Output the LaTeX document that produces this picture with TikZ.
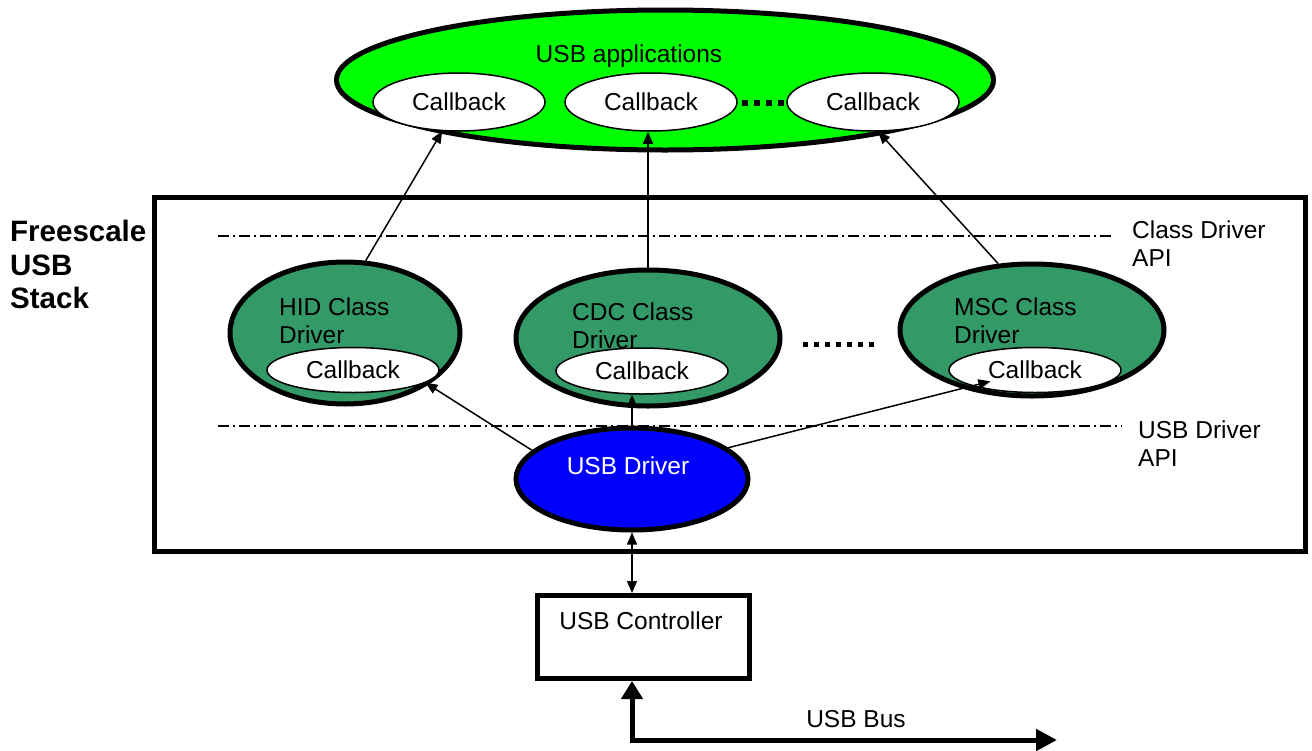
\documentclass[tikz,border=0pt]{standalone}
\usepackage{fontspec}
\setmainfont{Liberation Sans}
\usetikzlibrary{shapes.geometric,arrows.meta,calc}
\definecolor{appgreen}{RGB}{0,255,0}
\definecolor{drvgreen}{RGB}{51,153,102}
\definecolor{drvblue}{RGB}{0,0,255}
\begin{document}
\begin{tikzpicture}[x=1pt,y=-1pt,
  txt/.style={font=\fontsize{24.5}{27.5}\selectfont, inner sep=0pt, align=left},
  bigell/.style={ellipse, draw, line width=5pt, inner sep=0pt},
  cbell/.style={ellipse, draw, fill=white, line width=1.5pt, inner sep=0pt, minimum width=172pt, font=\fontsize{24.5}{28}\selectfont},
  apiline/.style={line width=1.5pt, dash pattern=on 11pt off 4pt on 2pt off 4pt},
  arr/.style={line width=1.5pt, -{Triangle[length=12pt,width=10pt]}},
  dblarr/.style={line width=1.5pt, {Triangle[length=12pt,width=10pt]}-{Triangle[length=12pt,width=10pt]}},
  bus/.style={line width=5pt, {Triangle[length=18pt,width=21pt]}-{Triangle[length=21pt,width=21pt]}},
  box/.style={draw, line width=5pt, inner sep=0pt},
  dotsq/.style={fill=black}
]
\useasboundingbox (0,0) rectangle (1312,750);

% Freescale USB Stack frame
\node[box, minimum width=1151pt, minimum height=354pt] (stack) at (729.5,374) {};
\node[anchor=north west, inner sep=0pt, align=left, font=\bfseries\fontsize{29.5}{33.5}\selectfont] (stacklbl) at (10,220) {Freescale\\USB\\Stack};

% API lines
\coordinate (capiA) at (218,236);
\coordinate (capiB) at (1113,236);
\coordinate (uapiA) at (218,426);
\coordinate (uapiB) at (1122,426);
\draw[apiline] (capiA) -- (capiB);
\draw[apiline] (uapiA) -- (uapiB);
\node[txt, anchor=north west] (capitxt) at (1132,221) {Class Driver\\API};
\node[txt, anchor=north west] (uapitxt) at (1138,421) {USB Driver\\API};

% USB applications
\node[bigell, fill=appgreen, minimum width=657pt, minimum height=140pt] (app) at (665,80) {};
\node[txt, anchor=base] (apptxt) at (629,62) {USB applications};
\node[cbell, minimum height=58pt] (acb1) at (459,102) {Callback};
\node[cbell, minimum height=58pt] (acb2) at (651,102) {Callback};
\node[cbell, minimum height=58pt] (acb3) at (873,102) {Callback};
\foreach \x in {745,757,769,781} \fill[dotsq] (\x-3,100) rectangle (\x+3,106);

% Class drivers
\node[bigell, fill=drvgreen, minimum width=230pt, minimum height=142pt] (hid) at (345,333) {};
\node[txt, anchor=north west] (hidtxt) at (279,298) {HID Class\\Driver};
\node[cbell, minimum height=45pt] (hcb) at (353,370) {Callback};

\node[bigell, fill=drvgreen, minimum width=264pt, minimum height=136pt] (cdc) at (648,338) {};
\node[txt, anchor=north west] (cdctxt) at (572,303) {CDC Class\\Driver};
\node[cbell, minimum height=46pt] (ccb) at (642,371) {Callback};

\node[bigell, fill=drvgreen, minimum width=264pt, minimum height=132pt] (msc) at (1032,330) {};
\node[txt, anchor=north west] (msctxt) at (954,298) {MSC Class\\Driver};
\node[cbell, minimum height=45pt] (mcb) at (1035,370) {Callback};

\foreach \x in {805,816,827,838,849,860,871} \fill[dotsq] (\x-2.5,341.5) rectangle (\x+2.5,346.5);

% USB driver
\node[bigell, fill=drvblue, minimum width=232pt, minimum height=102pt] (udrv) at (632,479) {};
\node[txt, anchor=base, text=white] (udrvtxt) at (628,474) {USB Driver};

% USB controller
\node[box, minimum width=212pt, minimum height=83pt] (ctrl) at (643,637) {};
\node[txt, anchor=base] (ctrltxt) at (641,629) {USB Controller};

% USB bus
\coordinate (busend) at (1057,740);
\node[txt, anchor=base] (bustxt) at (856,727) {USB Bus};

% connectors
\draw[arr] (hid.74) -- (acb1.240);
\draw[arr] (cdc.north) -- (cdc.north |- acb2.south);
\draw[arr] (msc.117) -- (acb3.280);
\draw[arr] (udrv.164) -- (hcb.-10);
\draw[arr] (udrv.north) -- (udrv.north |- ccb.south);
\draw[arr, shorten >=46pt] (udrv.18) -- (mcb.center);
\draw[dblarr] (udrv.south) -- (udrv.south |- ctrl.north);
\draw[bus] (udrv.south |- ctrl.south) |- (busend);
\end{tikzpicture}
\end{document}
